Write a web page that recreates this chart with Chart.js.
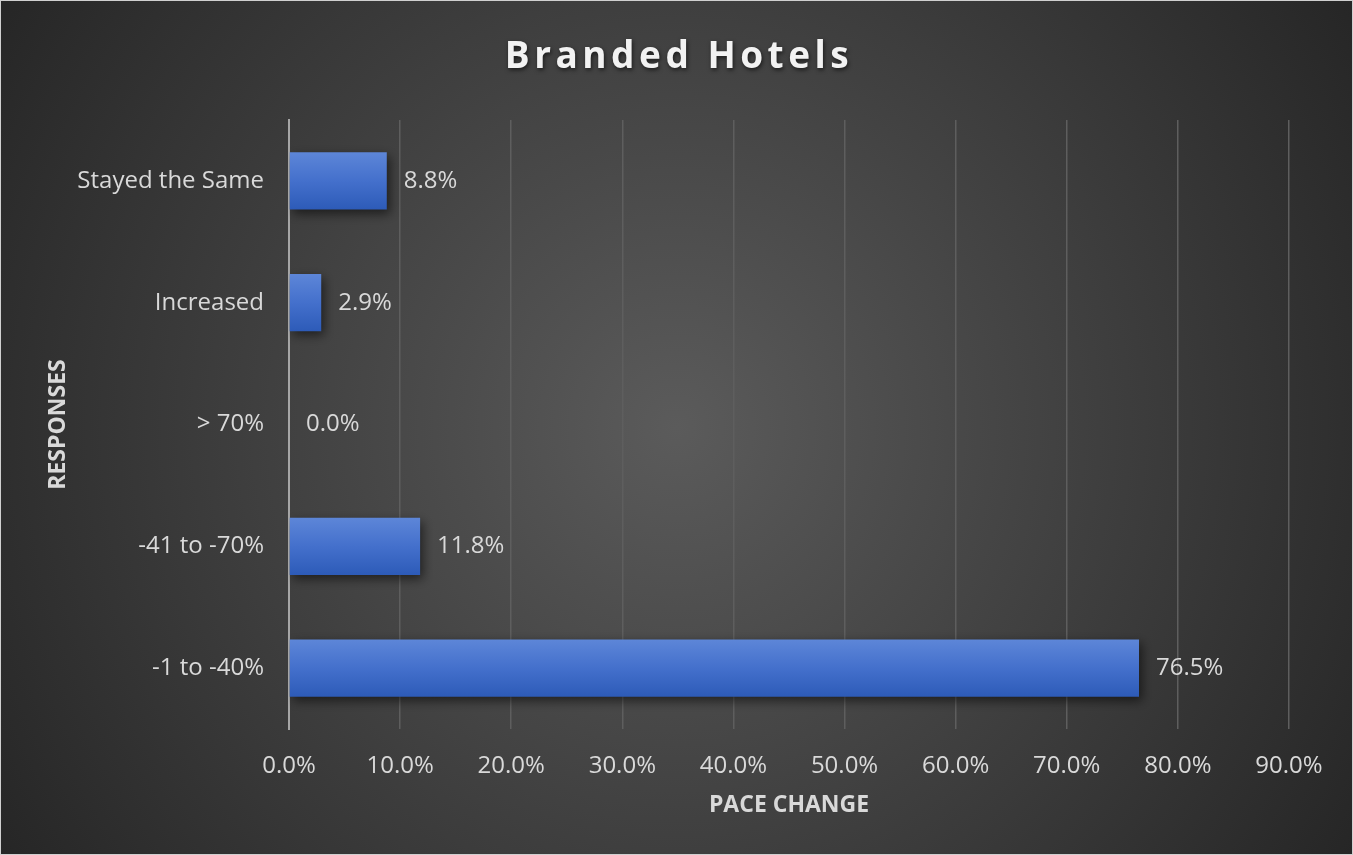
<!DOCTYPE html>
<html>
<head>
<meta charset="utf-8">
<script src="https://cdn.jsdelivr.net/npm/chart.js@4.4.1/dist/chart.umd.min.js"></script>
<style>
  html, body { margin: 0; padding: 0; background: #262626; }
  #wrap { width: 1353px; height: 855px; }
</style>
</head>
<body>
<div id="wrap"><canvas id="chart"></canvas></div>
<script>
// ── data ──
const categories = ['Stayed the Same', 'Increased', '> 70%', '-41 to -70%', '-1 to -40%'];
const paceValues = [8.8, 2.9, 0.0, 11.8, 76.5];
const axisMin = 0, axisMax = 90, axisStep = 10;

const textColor = '#d9d9d9';
const fontFamily = '"Open Sans", "Noto Sans", sans-serif';
const BAR_PCT = 0.47;

// radial background + thin border
const backgroundPlugin = {
    id: 'bg',
    beforeDraw(chart) {
        const { ctx, width, height } = chart;
        const g = ctx.createRadialGradient(width / 2, height / 2, 0, width / 2, height / 2, 800);
        g.addColorStop(0, '#5b5b5b');
        g.addColorStop(1, '#262626');
        ctx.save();
        ctx.fillStyle = g;
        ctx.fillRect(0, 0, width, height);
        ctx.strokeStyle = '#d0d0d0';
        ctx.lineWidth = 1;
        ctx.strokeRect(0.5, 0.5, width - 1, height - 1);
        ctx.restore();
    },
    afterLayout(chart) {
        // spaced-out title with soft shadow, centred on the whole canvas
        const tb = chart.titleBlock;
        if (!tb || tb._wrapped) return;
        const orig = tb.draw;
        tb.draw = function () {
            const c = this.ctx;
            c.save();
            c.translate(12, 0);
            c.letterSpacing = '4.5px';
            c.shadowColor = 'rgba(0,0,0,0.6)';
            c.shadowBlur = 4;
            c.shadowOffsetX = 1;
            c.shadowOffsetY = 2;
            orig.call(this);
            c.restore();
        };
        tb._wrapped = true;
    }
};

// drop shadow under bars
const shadowPlugin = {
    id: 'barShadow',
    beforeDatasetDraw(chart) {
        const c = chart.ctx;
        c.save();
        c.shadowColor = 'rgba(0,0,0,0.55)';
        c.shadowBlur = 10;
        c.shadowOffsetX = 3;
        c.shadowOffsetY = 4;
    },
    afterDatasetDraw(chart) {
        chart.ctx.restore();
    }
};

// value labels right of bars
const valueLabels = {
    id: 'valueLabels',
    afterDatasetsDraw(chart) {
        const { ctx } = chart;
        const meta = chart.getDatasetMeta(0);
        ctx.save();
        ctx.fillStyle = textColor;
        ctx.font = '24px ' + fontFamily;
        ctx.textAlign = 'left';
        ctx.textBaseline = 'middle';
        meta.data.forEach((bar, i) => {
            ctx.fillText(paceValues[i].toFixed(1) + '%', bar.x + 17, bar.y);
        });
        ctx.restore();
    }
};

function barGradient(context) {
    const chart = context.chart;
    const y = chart.scales.y;
    if (!chart.chartArea || !y) return '#4472c4';
    const center = y.getPixelForValue(context.dataIndex);
    const band = chart.chartArea.height / categories.length;
    const half = band * BAR_PCT / 2;
    const g = chart.ctx.createLinearGradient(0, center - half, 0, center + half);
    g.addColorStop(0, '#5d86d8');
    g.addColorStop(0.5, '#4470cc');
    g.addColorStop(1, '#2d5bb8');
    return g;
}

new Chart(document.getElementById('chart'), {
    type: 'bar',
    data: {
        labels: categories,
        datasets: [{
            label: 'Pace change',
            data: paceValues,
            backgroundColor: barGradient,
            borderWidth: 0,
            barPercentage: BAR_PCT,
            categoryPercentage: 1
        }]
    },
    plugins: [backgroundPlugin, shadowPlugin, valueLabels],
    options: {
        indexAxis: 'y',
        responsive: true,
        maintainAspectRatio: false,
        animation: false,
        layout: { padding: { left: 45, right: 64, top: 0, bottom: 36 } },
        plugins: {
            legend: { display: false },
            tooltip: { enabled: false },
            title: {
                display: true,
                text: 'Branded Hotels',
                color: '#f2f2f2',
                font: { size: 37, weight: 'bold', family: fontFamily },
                padding: { top: 35, bottom: 40.6 }
            }
        },
        scales: {
            x: {
                min: axisMin,
                max: axisMax,
                grid: { color: '#5e5e5e', lineWidth: 1.5, drawTicks: false },
                border: { display: false },
                ticks: {
                    stepSize: axisStep,
                    color: textColor,
                    padding: 23,
                    font: { size: 24, family: fontFamily },
                    callback: v => v.toFixed(1) + '%'
                },
                title: {
                    display: true,
                    text: 'PACE CHANGE',
                    color: textColor,
                    padding: 0,
                    font: { size: 23, weight: 'bold', family: fontFamily }
                },
                afterFit(scale) { scale.height = 855 - 36 - 729; }
            },
            y: {
                grid: { display: false, drawTicks: false },
                border: { display: true, color: '#a6a6a6', width: 2 },
                ticks: {
                    color: textColor,
                    padding: 25,
                    font: { size: 24, family: fontFamily }
                },
                title: {
                    display: true,
                    text: 'RESPONSES',
                    color: textColor,
                    padding: 0,
                    font: { size: 23, weight: 'bold', family: fontFamily }
                },
                afterFit(scale) { scale.width = 289 - 45; }
            }
        }
    }
});
</script>
</body>
</html>
